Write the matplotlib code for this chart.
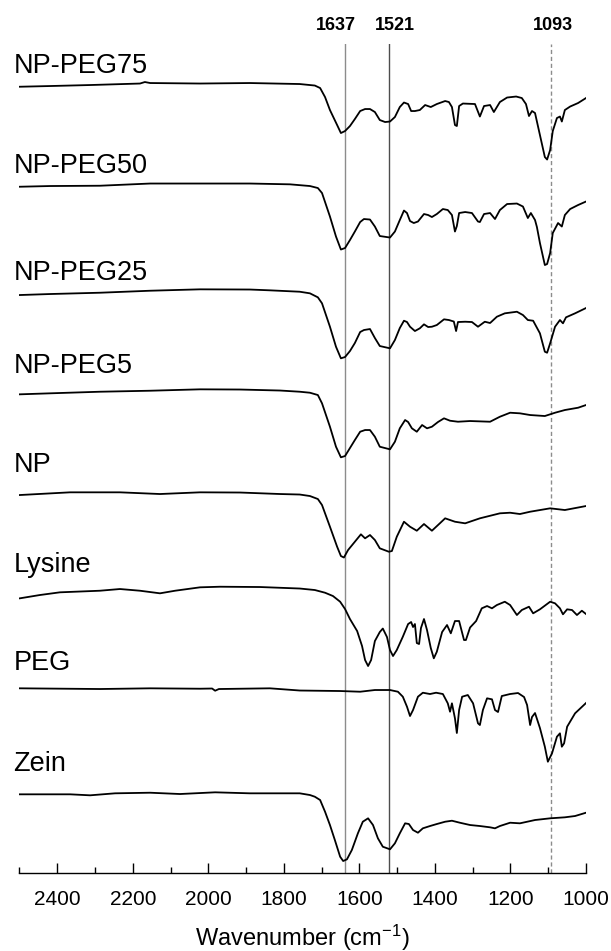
import numpy as np
import matplotlib
matplotlib.use("Agg")
import matplotlib.pyplot as plt
from matplotlib.ticker import MultipleLocator

plt.rcParams['font.family'] = ['Liberation Sans', 'DejaVu Sans']
plt.rcParams['mathtext.fontset'] = 'custom'
plt.rcParams['mathtext.rm'] = 'Liberation Sans'
plt.rcParams['mathtext.it'] = 'Liberation Sans:italic'

# FTIR spectra, (wavenumber cm-1, transmittance a.u. relative to 2500 cm-1)
np_peg75 = [(2499, 0.3), (2419, 1), (2313, 2), (2181, 3.5), (2168, 5), (2154, 4), (2022, 3.5),
            (1890, 4), (1758, 3), (1718, 1.5), (1704, -1), (1691, -10), (1678, -23), (1659, -38),
            (1649, -46), (1638, -44), (1625, -39), (1612, -32), (1598, -24), (1585, -22), (1572, -22),
            (1559, -25), (1546, -33), (1532, -35), (1519, -34.5), (1506, -30), (1493, -20), (1482, -15.5),
            (1471, -17), (1463, -24), (1453, -24), (1440, -23), (1426, -18), (1411, -20), (1395, -17),
            (1373, -14), (1363, -15), (1355, -20), (1347, -38), (1342, -39), (1336, -19), (1326, -16.5),
            (1294, -17), (1281, -29.5), (1270, -19), (1254, -18), (1244, -25), (1228, -15), (1209, -10.5),
            (1185, -9.5), (1170, -11), (1159, -17), (1151, -29), (1143, -24), (1135, -26), (1122, -48),
            (1109, -70), (1103, -72.5), (1095, -63), (1088, -44), (1077, -31), (1069, -29.5), (1064, -34.5),
            (1056, -23), (1042, -19.5), (1021, -16), (1000, -11)]

np_peg50 = [(2499, 0.3), (2419, 1), (2287, 1.3), (2154, 3.5), (2022, 3.5), (1890, 3.5), (1784, 2.7),
            (1731, 1), (1710, -1), (1699, -6), (1678, -29.5), (1662, -49.5), (1649, -62.5), (1638, -61),
            (1625, -53), (1612, -44.5), (1598, -35), (1588, -32), (1572, -32.5), (1559, -39.5), (1546, -49),
            (1519, -50.5), (1506, -44.5), (1493, -33), (1482, -23.5), (1474, -26), (1466, -34), (1456, -36),
            (1445, -34.5), (1429, -27), (1418, -28), (1408, -30), (1395, -27), (1379, -22), (1366, -23),
            (1355, -28), (1347, -44.5), (1342, -39), (1336, -26), (1320, -25), (1302, -26), (1286, -34.5),
            (1281, -35), (1270, -27), (1254, -26), (1241, -32), (1228, -23), (1209, -17), (1183, -16.5),
            (1167, -19.5), (1154, -31), (1146, -26), (1135, -33), (1130, -40), (1122, -56), (1109, -78),
            (1103, -77), (1095, -66), (1088, -46), (1074, -36), (1064, -39.5), (1056, -28), (1042, -22),
            (1021, -18), (1000, -14.5)]

np_peg25 = [(2499, 0), (2419, 1), (2287, 2.3), (2154, 4.3), (2022, 5.7), (1890, 5.5), (1837, 4.7),
            (1758, 3.3), (1731, 1.7), (1710, -2.3), (1699, -8.3), (1678, -31.7), (1662, -51.7),
            (1649, -63.3), (1638, -62), (1625, -56), (1612, -48), (1598, -37), (1588, -35), (1572, -34),
            (1559, -43), (1546, -51), (1519, -53.3), (1506, -45), (1493, -33), (1482, -25.7), (1474, -27),
            (1466, -31.7), (1453, -36), (1440, -33.3), (1429, -29.3), (1418, -32), (1408, -31.7), (1395, -30),
            (1376, -24.3), (1363, -25), (1350, -26.5), (1344, -36), (1339, -27), (1320, -26.7), (1302, -27),
            (1286, -31.7), (1268, -26.7), (1254, -28), (1236, -21.7), (1215, -18.3), (1183, -16.7),
            (1167, -20), (1154, -25), (1140, -25.7), (1122, -38.3), (1109, -56.7), (1103, -57.7),
            (1095, -48.3), (1082, -31.7), (1069, -25), (1061, -28.3), (1053, -22.3), (1029, -18.3),
            (1000, -13)]

np_peg5 = [(2499, -0.3), (2419, 0.7), (2287, 2.3), (2154, 3.3), (2022, 4.7), (1916, 4.5), (1810, 3.5),
           (1758, 2.3), (1731, 1.3), (1710, -1), (1699, -9.3), (1678, -32.7), (1662, -52.7), (1649, -63.3),
           (1638, -62), (1625, -54), (1612, -46), (1598, -37.7), (1585, -36), (1572, -36), (1559, -42.7),
           (1546, -52.7), (1519, -55.3), (1506, -47.7), (1493, -34.3), (1479, -26), (1471, -28),
           (1461, -34.3), (1448, -37.7), (1434, -31), (1421, -34.3), (1408, -32.7), (1392, -28),
           (1376, -24.3), (1360, -26.7), (1339, -27.7), (1307, -27), (1254, -27.7), (1228, -22.7),
           (1201, -18.7), (1175, -19.3), (1148, -21), (1109, -22), (1082, -18.7), (1056, -16),
           (1021, -13.7), (1000, -11)]

np_bare = [(2499, 0), (2366, 2.7), (2234, 2.7), (2128, 1), (2022, 2.7), (1916, 2.5), (1810, 1),
           (1758, 0.5), (1731, -1), (1710, -4), (1699, -10), (1678, -31.7), (1659, -51.7), (1649, -61),
           (1641, -62.5), (1630, -55), (1612, -46.7), (1596, -39.3), (1585, -43.3), (1572, -40),
           (1559, -45), (1546, -53.3), (1522, -56.7), (1514, -56), (1501, -41.7), (1482, -26.7),
           (1466, -31.7), (1448, -35.7), (1429, -29), (1408, -35.7), (1387, -28.3), (1373, -23.3),
           (1347, -26.7), (1320, -28.3), (1281, -23.3), (1228, -18.3), (1201, -17.7), (1175, -19),
           (1148, -16.7), (1095, -13.3), (1056, -15), (1000, -11)]

lysine = [(2499, -0.3), (2446, 3), (2393, 5.7), (2287, 7.3), (2234, 9), (2181, 7.3), (2128, 4.7),
          (2088, 7.3), (2022, 10.7), (1969, 11.3), (1863, 11), (1758, 9.5), (1718, 8), (1691, 5.3),
          (1670, 2), (1651, -3.7), (1638, -11), (1625, -21), (1606, -33), (1593, -48), (1585, -62),
          (1577, -68), (1569, -62), (1559, -43), (1546, -34), (1538, -30.5), (1527, -39), (1519, -52),
          (1511, -58), (1501, -52), (1485, -38.7), (1471, -26), (1463, -24), (1458, -29), (1453, -26),
          (1448, -45), (1442, -46), (1437, -30), (1429, -21), (1421, -32), (1411, -50), (1403, -60.3),
          (1395, -53.7), (1381, -34), (1368, -27), (1358, -35.3), (1347, -23), (1336, -23), (1323, -42),
          (1318, -42), (1307, -29.5), (1291, -23), (1276, -10.3), (1262, -8), (1249, -10.3), (1236, -7),
          (1215, -3.7), (1201, -7), (1183, -17), (1170, -12), (1151, -8.7), (1140, -15.3), (1122, -11.3),
          (1095, -3.7), (1082, -5.3), (1069, -10.3), (1061, -16.3), (1050, -11.3), (1037, -12),
          (1024, -17), (1011, -12.7), (1000, -16)]

peg = [(2499, -0.3), (2287, -1), (2154, -0.3), (2022, -0.7), (1990, -0.5), (1982, -2.7), (1972, -1),
       (1837, -0.3), (1758, -2.5), (1651, -3), (1598, -3.7), (1559, -2), (1519, -2), (1498, -3.7),
       (1485, -8.7), (1474, -18.7), (1466, -28), (1458, -22), (1445, -8.7), (1432, -4.7), (1413, -6),
       (1397, -4.7), (1379, -6), (1366, -15.3), (1360, -23.7), (1355, -15.3), (1347, -30.3), (1342, -45),
       (1336, -22), (1328, -8.7), (1313, -7), (1299, -15.3), (1286, -35.3), (1281, -37), (1273, -22),
       (1262, -10.3), (1249, -11.3), (1241, -22), (1233, -24), (1223, -8), (1201, -6), (1180, -5),
       (1164, -9), (1156, -17), (1148, -37), (1143, -29), (1135, -25), (1122, -40), (1109, -58.7),
       (1101, -73.7), (1090, -65.3), (1077, -48.7), (1069, -45.3), (1064, -58.7), (1058, -55.3),
       (1050, -38.7), (1029, -25.3), (1000, -15)]

zein = [(2499, -0.3), (2366, -0.3), (2313, -1.3), (2247, 0.7), (2154, 1.3), (2075, 0), (1982, 1.7),
        (1890, 0.7), (1758, 0.7), (1731, -1), (1718, -2.7), (1704, -6), (1691, -17.7), (1678, -31),
        (1665, -46), (1651, -62.7), (1643, -67), (1633, -65.3), (1620, -56), (1604, -39.3), (1591, -27.7),
        (1577, -24.3), (1564, -31), (1551, -44.3), (1538, -52.7), (1519, -55.3), (1506, -49.3),
        (1493, -39.3), (1479, -29.3), (1469, -30), (1458, -36), (1445, -38.7), (1432, -34.3), (1413, -32),
        (1395, -30), (1373, -27.7), (1355, -26.7), (1334, -28.7), (1307, -31), (1281, -32), (1254, -33.3),
        (1241, -34.3), (1228, -32), (1201, -28.7), (1175, -29.3), (1135, -26), (1095, -24.3),
        (1056, -23.3), (1029, -22), (1000, -18.7)]

names = ['NP-PEG75', 'NP-PEG50', 'NP-PEG25', 'NP-PEG5', 'NP', 'Lysine', 'PEG', 'Zein']
spectra = [np_peg75, np_peg50, np_peg25, np_peg5, np_bare, lysine, peg, zein]
offsets = [786, 686, 578, 479, 378, 275, 185, 79]
label_y = [800, 700, 593, 500, 401, 301, 203, 102]

# marker bands
bands = [1637, 1521, 1093]
band_styles = [('#8c8c8c', '-'), ('#4d4d4d', '-'), ('#8c8c8c', (0, (3, 2)))]
band_label_x = [1661, 1506, 1088]

fig = plt.figure(figsize=(6.11, 9.51), dpi=100)
ax = fig.add_axes([0.0319, 0.082, 0.9272, 0.8717])

for b, (c, ls) in zip(bands, band_styles):
    ax.axvline(b, color=c, linestyle=ls, linewidth=1.0, zorder=1)

for name, spec, off, ly in zip(names, spectra, offsets, label_y):
    d = np.array(spec)
    ax.plot(d[:, 0], d[:, 1] + off, color='black', linewidth=1.3, zorder=3)
    ax.text(2516, ly, name, fontsize=19.5, ha='left', va='baseline', clip_on=False)

for b, bx in zip(bands, band_label_x):
    ax.text(bx, 1.022, str(b), transform=ax.get_xaxis_transform(), ha='center', va='center',
            fontsize=13, fontweight='bold')

ax.set_xlim(2500, 1000)
ax.set_ylim(0, 829)
ax.xaxis.set_major_locator(MultipleLocator(200))
ax.xaxis.set_minor_locator(MultipleLocator(100))
ax.tick_params(axis='x', which='major', direction='in', length=7.5, width=1, labelsize=15, pad=12)
ax.tick_params(axis='x', which='minor', direction='in', length=4, width=1)
ax.set_yticks([])
for s in ['left', 'right', 'top']:
    ax.spines[s].set_visible(False)
ax.spines['bottom'].set_linewidth(1)

ax.set_xlabel('Wavenumber (cm$^{-1}$)', fontsize=17, labelpad=10)

fig.savefig('out.png', dpi=100)
